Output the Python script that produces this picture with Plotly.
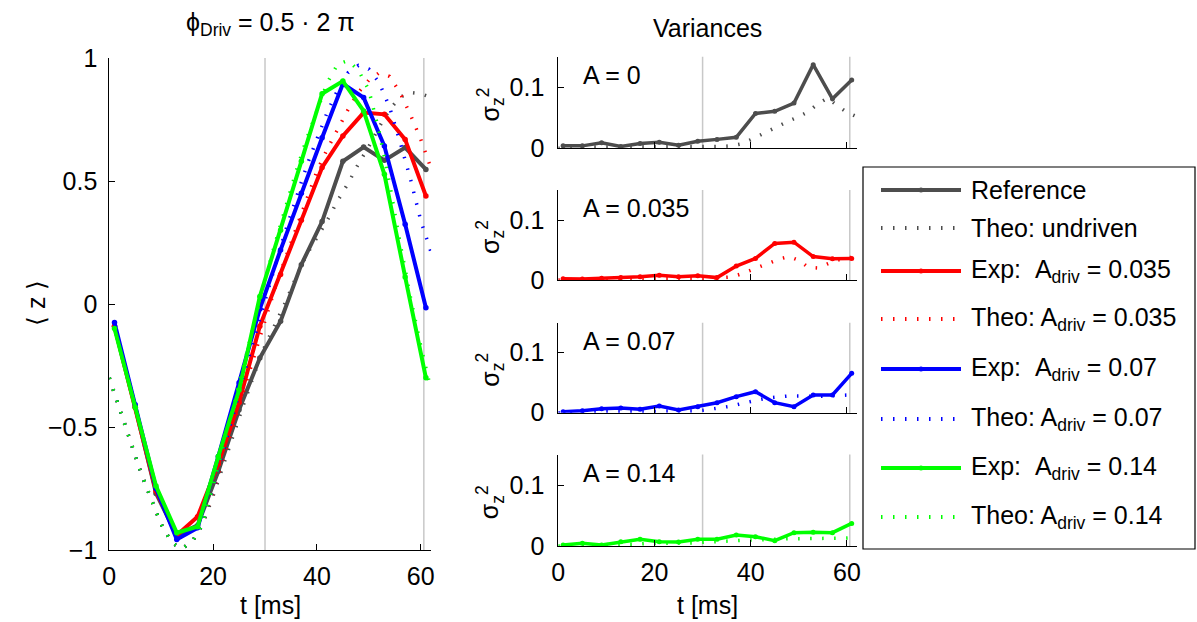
import plotly.graph_objects as go

W, H = 1197, 622
FONT = "Liberation Sans, Arial, Helvetica, sans-serif"
FS = 25

# ---------------- data ----------------
# measurement times (ms)
t_exp = [1, 5, 9, 13, 17, 21, 25, 29, 33, 37, 41, 45, 49, 53, 57, 61]
# time grid of the theory curves (ms)
t_theo = list(range(0, 63, 2))

# mean <z> — experiment
z_ref = [-0.09, -0.42, -0.77, -0.94, -0.90, -0.68, -0.43, -0.22, -0.07, 0.16, 0.335, 0.58, 0.638, 0.584, 0.636, 0.547]
z_035 = [-0.09, -0.42, -0.76, -0.94, -0.865, -0.65, -0.40, -0.09, 0.12, 0.34, 0.555, 0.683, 0.778, 0.771, 0.669, 0.439]
z_070 = [-0.075, -0.41, -0.75, -0.957, -0.91, -0.62, -0.32, -0.02, 0.22, 0.45, 0.676, 0.895, 0.839, 0.642, 0.324, -0.015]
z_140 = [-0.10, -0.42, -0.74, -0.93, -0.905, -0.62, -0.35, 0.03, 0.30, 0.58, 0.855, 0.906, 0.785, 0.527, 0.11, -0.30]

# mean <z> — theory
z_th_und = [-0.30, -0.43, -0.555, -0.68, -0.79, -0.895, -0.97, -0.995, -0.965, -0.895,
            -0.78, -0.65, -0.52, -0.40, -0.28, -0.17, -0.08, 0.01, 0.11, 0.20, 0.27,
            0.34, 0.42, 0.49, 0.57, 0.64, 0.72, 0.79, 0.84, 0.86, 0.855, 0.84]
z_th_035 = [-0.30, -0.43, -0.555, -0.68, -0.79, -0.895, -0.97, -0.995, -0.965, -0.895,
            -0.76, -0.62, -0.48, -0.34, -0.20, -0.06, 0.07, 0.19, 0.31, 0.43, 0.54,
            0.63, 0.71, 0.79, 0.86, 0.91, 0.94, 0.925, 0.86, 0.77, 0.67, 0.55]
z_th_070 = [-0.30, -0.43, -0.555, -0.68, -0.79, -0.895, -0.97, -0.995, -0.965, -0.895,
            -0.75, -0.60, -0.44, -0.28, -0.13, 0.02, 0.16, 0.30, 0.43, 0.56, 0.67,
            0.78, 0.87, 0.94, 0.97, 0.955, 0.90, 0.80, 0.66, 0.51, 0.34, 0.21]
z_th_140 = [-0.30, -0.43, -0.555, -0.68, -0.79, -0.895, -0.97, -0.995, -0.965, -0.895,
            -0.74, -0.58, -0.41, -0.24, -0.07, 0.10, 0.25, 0.40, 0.54, 0.67, 0.79,
            0.90, 0.975, 0.99, 0.95, 0.87, 0.70, 0.49, 0.25, 0.03, -0.17, -0.35]

# variances sigma_z^2 — experiment
v_ref = [0.004, 0.004, 0.009, 0.003, 0.008, 0.010, 0.005, 0.0115, 0.0146, 0.018, 0.057, 0.0605, 0.074, 0.137, 0.081, 0.112]
v_035 = [0.002, 0.0017, 0.003, 0.004, 0.0056, 0.0078, 0.0056, 0.007, 0.004, 0.0233, 0.036, 0.061, 0.063, 0.039, 0.0356, 0.036]
v_070 = [0.0017, 0.0033, 0.0067, 0.0078, 0.0056, 0.011, 0.0045, 0.010, 0.0167, 0.0267, 0.035, 0.0167, 0.010, 0.0295, 0.0295, 0.0656]
v_140 = [0.0016, 0.0044, 0.0016, 0.007, 0.011, 0.007, 0.0066, 0.011, 0.011, 0.018, 0.0153, 0.0087, 0.0219, 0.0224, 0.0219, 0.037]

# variances sigma_z^2 — theory
v_th_und = [0.0, 0.001, 0.001, 0.002, 0.002, 0.002, 0.002, 0.002, 0.003, 0.003, 0.003, 0.003, 0.003, 0.003, 0.003,
            0.003, 0.003, 0.003, 0.004, 0.007, 0.014, 0.022, 0.030, 0.038, 0.045, 0.052, 0.060, 0.073, 0.082, 0.070, 0.059, 0.052]
v_th_035 = [0.0, 0.001, 0.001, 0.001, 0.002, 0.002, 0.002, 0.002, 0.003, 0.003, 0.003, 0.003, 0.003, 0.003, 0.003, 0.003, 0.003, 0.004,
            0.005, 0.010, 0.016, 0.022, 0.029, 0.035, 0.039, 0.033, 0.021, 0.020, 0.027, 0.033, 0.037, 0.038]
v_th_070 = [0.0, 0.001, 0.001, 0.001, 0.002, 0.002, 0.002, 0.002, 0.003, 0.003, 0.003, 0.003, 0.003, 0.003, 0.003,
            0.004, 0.006, 0.008, 0.011, 0.015, 0.019, 0.022, 0.025, 0.027, 0.028, 0.028, 0.027, 0.027, 0.028, 0.029, 0.030, 0.030]
v_th_140 = [0.0, 0.001, 0.001, 0.002, 0.002, 0.002, 0.003, 0.003, 0.003, 0.004, 0.004, 0.004, 0.005, 0.005, 0.005, 0.006,
            0.007, 0.008, 0.009, 0.010, 0.010, 0.010, 0.011, 0.011, 0.012, 0.012, 0.012, 0.012, 0.012, 0.012, 0.013, 0.014]

# time markers (ms)
marker_times = [30, 60.6]

series_names = ["Reference", "Exp:\u00a0\u00a0A<sub>driv</sub> = 0.035",
                "Exp:\u00a0\u00a0A<sub>driv</sub> = 0.07", "Exp:\u00a0\u00a0A<sub>driv</sub> = 0.14"]
theory_names = ["Theo: undriven", "Theo: A<sub>driv</sub> = 0.035",
                "Theo: A<sub>driv</sub> = 0.07", "Theo: A<sub>driv</sub> = 0.14"]
panel_labels = ["A = 0", "A = 0.035", "A = 0.07", "A = 0.14"]
colors = ["#4d4d4d", "#ff0000", "#0000ff", "#00ff00"]

z_exp = [z_ref, z_035, z_070, z_140]
z_th = [z_th_und, z_th_035, z_th_070, z_th_140]
v_exp = [v_ref, v_035, v_070, v_140]
v_th = [v_th_und, v_th_035, v_th_070, v_th_140]

DOT = "1.5px,10.5px"


def px_x(x):
    return x / W


def px_y(y):
    return 1 - y / H


fig = go.Figure()

# ---------------- left panel: mean <z> ----------------
for i in range(4):
    fig.add_trace(go.Scatter(
        x=t_exp, y=z_exp[i], mode="lines+markers", name=series_names[i],
        line=dict(color=colors[i], width=4), marker=dict(color=colors[i], size=5.5),
        xaxis="x", yaxis="y", showlegend=False))
    fig.add_trace(go.Scatter(
        x=t_theo, y=z_th[i], mode="lines", name=theory_names[i],
        line=dict(color=colors[i], width=3.5, dash=DOT),
        xaxis="x", yaxis="y", showlegend=False))

# ---------------- right panels: variances ----------------
for i in range(4):
    k = i + 2
    fig.add_trace(go.Scatter(
        x=t_theo, y=v_th[i], mode="lines", name=theory_names[i],
        line=dict(color=colors[i], width=3.5, dash=DOT),
        xaxis=f"x{k}", yaxis=f"y{k}", showlegend=False))
    fig.add_trace(go.Scatter(
        x=t_exp, y=v_exp[i], mode="lines+markers", name=series_names[i],
        line=dict(color=colors[i], width=3.5), marker=dict(color=colors[i], size=5),
        xaxis=f"x{k}", yaxis=f"y{k}", showlegend=False))

axis_common = dict(
    showgrid=False, zeroline=False, showline=True, linecolor="black", linewidth=1,
    ticks="inside", ticklen=6, tickwidth=1, tickcolor="black",
    tickfont=dict(family=FONT, size=FS, color="black"), automargin=False,
)

layout = dict(
    width=W, height=H, autosize=False,
    margin=dict(l=0, r=0, t=0, b=0),
    paper_bgcolor="white", plot_bgcolor="white",
    font=dict(family=FONT, size=FS, color="black"),
    showlegend=False,
)

left_x = [px_x(109.3), px_x(431.1)]
right_x = [px_x(558.3), px_x(856.5)]

layout["xaxis"] = dict(axis_common, domain=left_x, range=[0, 62], tickvals=[0, 20, 40, 60],
                       anchor="y", ticklabelstandoff=4)
layout["yaxis"] = dict(axis_common, domain=[px_y(550), px_y(58)], range=[-1, 1],
                       tickvals=[-1, -0.5, 0, 0.5, 1], anchor="x", ticklabelstandoff=6)

panel_px = [(56.7, 148.3), (190.0, 280.0), (322.7, 412.7), (454.5, 546.0)]
for i, (top, bot) in enumerate(panel_px):
    k = i + 2
    layout[f"xaxis{k}"] = dict(axis_common, domain=right_x, range=[0, 62], tickvals=[0, 20, 40, 60],
                               showticklabels=(k == 5), anchor=f"y{k}", ticklabelstandoff=4)
    layout[f"yaxis{k}"] = dict(axis_common, domain=[px_y(bot), px_y(top)], range=[0, 0.15],
                               tickvals=[0, 0.1], ticktext=["0", "0.1"], anchor=f"x{k}",
                               ticklabelstandoff=8)

shapes = []
# vertical time markers in every panel
for xa, ya in [("x", "y"), ("x2", "y2"), ("x3", "y3"), ("x4", "y4"), ("x5", "y5")]:
    for tm in marker_times:
        shapes.append(dict(type="line", xref=xa, yref=f"{ya} domain", x0=tm, x1=tm, y0=0, y1=1,
                           line=dict(color="#c8c8c8", width=1.5), layer="below"))

annotations = []
txt = dict(family=FONT, size=FS, color="black")

# titles
annotations.append(dict(text="ϕ<sub>Driv</sub> = 0.5 · 2 π", xref="paper", yref="paper",
                        x=px_x(270), y=px_y(24), xanchor="center", yanchor="middle",
                        showarrow=False, font=txt))
annotations.append(dict(text="Variances", xref="paper", yref="paper",
                        x=px_x(707), y=px_y(28), xanchor="center", yanchor="middle",
                        showarrow=False, font=txt))
# axis titles
annotations.append(dict(text="⟨ z ⟩", xref="paper", yref="paper", x=px_x(36), y=px_y(303),
                        xanchor="center", yanchor="middle", textangle=-90, showarrow=False, font=txt))
for xc in (270, 707):
    annotations.append(dict(text="t [ms]", xref="paper", yref="paper", x=px_x(xc), y=px_y(605),
                            xanchor="center", yanchor="middle", showarrow=False, font=txt))
for i, (top, bot) in enumerate(panel_px):
    k = i + 2
    annotations.append(dict(text="σ<sub>z</sub><sup>2</sup>", xref="paper", yref="paper",
                            x=px_x(490), y=px_y((top + bot) / 2 + 2), xanchor="center", yanchor="middle",
                            textangle=-90, showarrow=False, font=txt))
    annotations.append(dict(text=panel_labels[i], xref=f"x{k} domain", yref=f"y{k} domain",
                            x=0.075, y=0.8, xanchor="left", yanchor="middle",
                            showarrow=False, font=txt))

# legend box
shapes.append(dict(type="rect", xref="paper", yref="paper",
                   x0=px_x(863), x1=px_x(1195), y0=px_y(549), y1=px_y(167),
                   line=dict(color="black", width=1.2), fillcolor="white", layer="above"))
legend_rows = [190, 228, 271, 319, 369, 419, 468, 517]
legend_entries = []
for i in range(4):
    legend_entries.append((series_names[i], colors[i], False))
    legend_entries.append((theory_names[i], colors[i], True))
for (label, col, dotted), yr in zip(legend_entries, legend_rows):
    yp = px_y(yr)
    if dotted:
        shapes.append(dict(type="line", xref="paper", yref="paper", x0=px_x(881), x1=px_x(961),
                           y0=yp, y1=yp, line=dict(color=col, width=4, dash=DOT), layer="above"))
    else:
        shapes.append(dict(type="line", xref="paper", yref="paper", x0=px_x(881), x1=px_x(961),
                           y0=yp, y1=yp, line=dict(color=col, width=4), layer="above"))
        shapes.append(dict(type="circle", xref="paper", yref="paper",
                           x0=px_x(918.5), x1=px_x(923.5), y0=px_y(yr + 2.5), y1=px_y(yr - 2.5),
                           line=dict(color=col, width=0), fillcolor=col, layer="above"))
    annotations.append(dict(text=label, xref="paper", yref="paper", x=px_x(969), y=yp,
                            xanchor="left", yanchor="middle", showarrow=False, font=txt))

layout["shapes"] = shapes
layout["annotations"] = annotations
fig.update_layout(**layout)

fig.write_html("out.html")
